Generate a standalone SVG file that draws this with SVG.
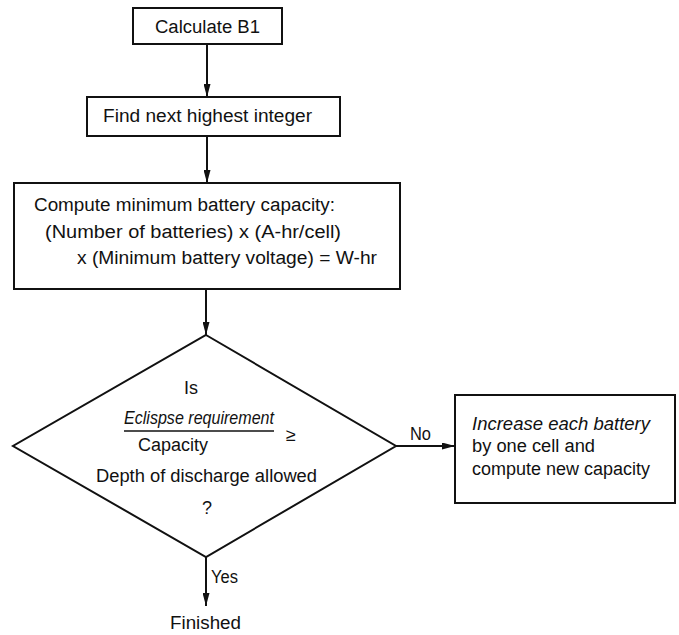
<svg xmlns="http://www.w3.org/2000/svg" width="679" height="635" viewBox="0 0 679 635">
  <style>
    .box { fill: #ffffff; stroke: #111111; stroke-width: 2; }
    .ln { fill: none; stroke: #111111; stroke-width: 2; }
    text { font-family: "Liberation Sans", Arial, sans-serif; font-size: 18px; fill: #111111; }
    .it { font-style: italic; }
    .mid { text-anchor: middle; }
  </style>
  <defs>
    <marker id="arr" viewBox="0 0 13 7" refX="13" refY="3.5" markerWidth="13" markerHeight="7" markerUnits="userSpaceOnUse" orient="auto">
      <path d="M0,0 L13,3.5 L0,7 Z" fill="#111111"/>
    </marker>
  </defs>
  <rect width="679" height="635" fill="#ffffff"/>

  <g id="connectors">
    <line class="ln" x1="207" y1="44" x2="207" y2="97" marker-end="url(#arr)"/>
    <line class="ln" x1="207" y1="136" x2="207" y2="183" marker-end="url(#arr)"/>
    <line class="ln" x1="206" y1="289" x2="206" y2="335" marker-end="url(#arr)"/>
    <line class="ln" x1="396" y1="446" x2="455" y2="446" marker-end="url(#arr)"/>
    <line class="ln" x1="206" y1="557" x2="206" y2="606" marker-end="url(#arr)"/>
    <text x="410" y="440" textLength="21" lengthAdjust="spacingAndGlyphs">No</text>
    <text x="211" y="583" textLength="27" lengthAdjust="spacingAndGlyphs">Yes</text>
  </g>

  <g id="calculate">
    <rect class="box" x="133" y="8" width="149" height="36"/>
    <text x="155" y="33" textLength="105" lengthAdjust="spacingAndGlyphs">Calculate B1</text>
  </g>

  <g id="find">
    <rect class="box" x="87" y="97" width="253" height="39"/>
    <text x="103" y="122" textLength="209" lengthAdjust="spacingAndGlyphs">Find next highest integer</text>
  </g>

  <g id="compute">
    <rect class="box" x="14" y="183" width="386" height="106"/>
    <text x="34" y="211" textLength="301" lengthAdjust="spacingAndGlyphs">Compute minimum battery capacity:</text>
    <text x="45" y="238" textLength="296" lengthAdjust="spacingAndGlyphs">(Number of batteries) x (A-hr/cell)</text>
    <text x="77" y="264" textLength="300" lengthAdjust="spacingAndGlyphs">x (Minimum battery voltage) =  W-hr</text>
  </g>

  <g id="decision">
    <polygon class="box" points="206,335 396,446 206,557 13,446"/>
    <text class="mid" x="191" y="394">Is</text>
    <text class="it" x="124" y="424" textLength="150" lengthAdjust="spacingAndGlyphs">Eclispse requirement</text>
    <line x1="124" y1="431" x2="274" y2="431" stroke="#111111" stroke-width="1.5"/>
    <text class="mid" x="291" y="441">≥</text>
    <text class="mid" x="173" y="451">Capacity</text>
    <text x="96" y="482" textLength="221" lengthAdjust="spacingAndGlyphs">Depth of discharge allowed</text>
    <text class="mid" x="207" y="514">?</text>
  </g>

  <g id="increase">
    <rect class="box" x="455" y="395" width="220" height="108"/>
    <text class="it" x="472" y="430" textLength="178" lengthAdjust="spacingAndGlyphs">Increase each battery</text>
    <text x="472" y="452" textLength="123" lengthAdjust="spacingAndGlyphs">by one cell and</text>
    <text x="472" y="475" textLength="178" lengthAdjust="spacingAndGlyphs">compute new capacity</text>
  </g>

  <g id="finished">
    <text x="170" y="629" textLength="71" lengthAdjust="spacingAndGlyphs">Finished</text>
  </g>
</svg>
